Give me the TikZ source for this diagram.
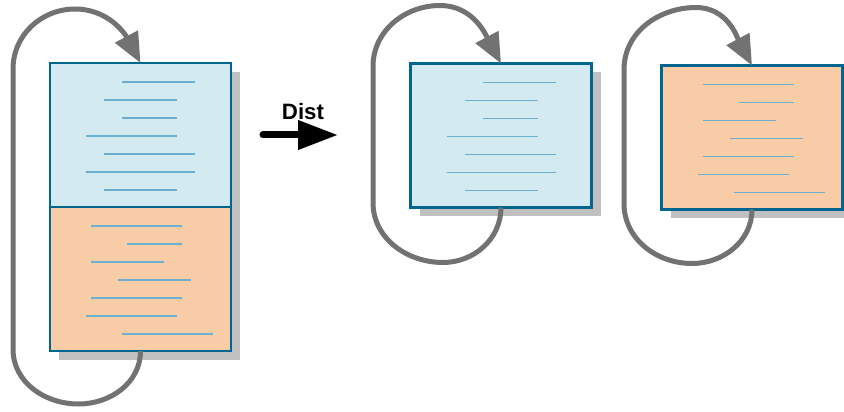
\documentclass[tikz,border=0pt]{standalone}
\usepackage{fontspec}
\setmainfont{Liberation Sans}
\usetikzlibrary{positioning,shadows,arrows.meta}

\definecolor{celeste}{HTML}{D2EAF0}
\definecolor{durazno}{HTML}{F8CCA6}
\definecolor{borde}{HTML}{00658F}
\definecolor{linea}{HTML}{6AAED0}
\definecolor{gris}{HTML}{727272}
\definecolor{sombra}{HTML}{C0C0C0}

% renglones de texto dentro de un bloque
\newcommand{\renglones}[2]{%
  \begin{scope}[shift={(#1.north west)}]
    \foreach \a/\b/\y in #2 \draw[renglon] (\a,-\y) -- (\b,-\y);
  \end{scope}}
\newcommand{\listaazul}{72/145/19, 54/127/37, 72/127/55, 36/127/73, 54/145/91, 36/145/109, 54/127/127}
\newcommand{\listanaranja}{41/132/19, 77/132/37, 41/114/55, 68/141/73, 41/132/91, 36/127/109, 72/163/127}

\begin{document}
\begin{tikzpicture}[x=0.3mm,y=0.3mm,
  bloque/.style={draw=borde, line width=0.8mm, minimum width=54.3mm, minimum height=43.2mm,
    inner sep=0pt, outer sep=0pt,
    drop shadow={shadow xshift=2.7mm, shadow yshift=-2.7mm, fill=sombra, opacity=1}},
  renglon/.style={draw=linea, line width=0.5mm},
  vuelta/.style={draw=gris, line width=1.5mm, -{Triangle[length=9mm,width=7.5mm]}},
  flecha/.style={draw=black, line width=2.1mm, line cap=round, -{Triangle[length=12mm,width=8.4mm]}}]
\useasboundingbox (0,0) rectangle (844,412);

% Bloque original (dos partes)
\node[bloque, fill=celeste] (srcA) at (140.5,277) {};
\node[bloque, fill=durazno, below=0pt of srcA] (srcB) {};
\renglones{srcA}{\listaazul}
\renglones{srcB}{\listanaranja}

% Bucle del bloque original
\draw[vuelta] (srcB.south) to[out=-90,in=0] ++(-62,-53) to[out=180,in=-90] ++(-65.5,55)
  -- ++(0,280) to[out=90,in=180] ++(62,60) to[out=0,in=118] (srcA.north);

% Flecha de distribucion
\coordinate (distIni) at (263,277);
\coordinate (distFin) at (338,277);
\draw[flecha] (distIni) -- (distFin);
\node[font=\bfseries\fontsize{19}{22}\selectfont] (dist) at (303,300) {Dist};

% Bloques distribuidos
\node[bloque, fill=celeste] (dstA) at (501,276.5) {};
\node[bloque, fill=durazno] (dstB) at (752,274.5) {};
\renglones{dstA}{\listaazul}
\renglones{dstB}{\listanaranja}

% Bucles de los bloques distribuidos
\draw[vuelta] (dstA.south) to[out=-90,in=0] ++(-58,-55) to[out=180,in=-90] ++(-70,60)
  -- ++(0,136) to[out=90,in=180] ++(67,61) to[out=0,in=118] (dstA.north);
\draw[vuelta] (dstB.south) to[out=-90,in=0] ++(-60,-54) to[out=180,in=-90] ++(-68,60)
  -- ++(0,134) to[out=90,in=180] ++(72,62) to[out=0,in=118] (dstB.north);
\end{tikzpicture}
\end{document}
